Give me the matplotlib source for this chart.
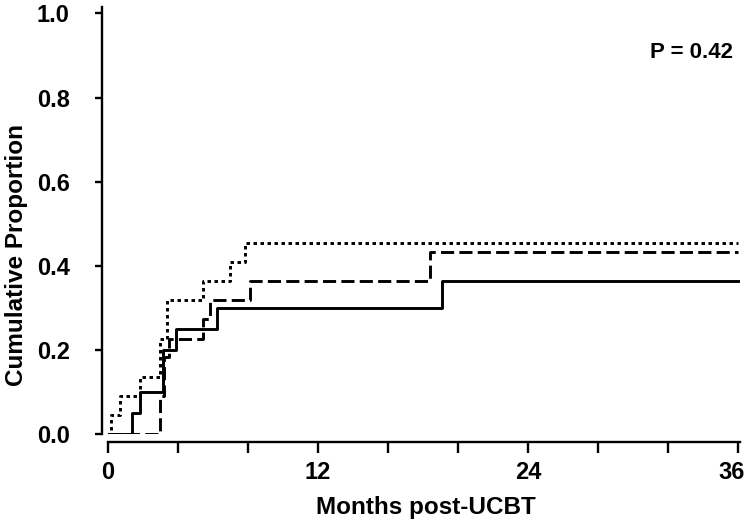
import matplotlib
matplotlib.use('Agg')
import matplotlib.pyplot as plt
import matplotlib.transforms as mtransforms

plt.rcParams.update({
    'font.family': ['Liberation Sans', 'DejaVu Sans'],
    'font.weight': 'bold',
})

# step times (months) and cumulative proportions for the three groups
solid_t = [0, 1.35, 1.83, 3.15, 3.9, 6.2, 19.1, 36]
solid_p = [0, 0.05, 0.10, 0.20, 0.25, 0.30, 0.364, 0.364]

dashed_t = [0, 2.97, 3.2, 3.5, 5.4, 5.8, 8.1, 18.4, 36]
dashed_p = [0, 0.091, 0.182, 0.227, 0.273, 0.318, 0.364, 0.432, 0.432]

dotted_t = [0, 0.17, 0.68, 1.83, 2.97, 3.35, 5.4, 6.96, 7.8, 36]
dotted_p = [0, 0.045, 0.091, 0.136, 0.227, 0.318, 0.364, 0.409, 0.455, 0.455]

x_ticks = [0, 4, 8, 12, 16, 20, 24, 28, 32, 36]
x_labels = ['0', '', '', '12', '', '', '24', '', '', '36']
y_ticks = [0.0, 0.2, 0.4, 0.6, 0.8, 1.0]
p_text = 'P = 0.42'

fig = plt.figure(figsize=(7.5, 5.24), dpi=100)
ax = fig.add_axes([0.144, 0.1718, 0.8427, 0.8155])

ax.step(solid_t, solid_p, where='post', color='black', lw=2.1)
ax.step(dashed_t, dashed_p, where='post', color='black', lw=2.1,
        dashes=(4.5, 1.8), dash_capstyle='butt')
ax.step(dotted_t, dotted_p, where='post', color='black', lw=2.1,
        dashes=(1.2, 1.2), dash_capstyle='butt')

ax.set_xlim(0, 36.1)
ax.set_ylim(0, 1.016)
ax.set_xticks(x_ticks)
ax.set_xticklabels(x_labels)
ax.set_yticks(y_ticks)
ax.set_yticklabels([f'{v:.1f}' for v in y_ticks])

for s in ['top', 'right']:
    ax.spines[s].set_visible(False)
ax.spines['bottom'].set_position(('outward', 5.5))
ax.spines['left'].set_position(('outward', 4.5))
for s in ['bottom', 'left']:
    ax.spines[s].set_linewidth(1.7)
ax.tick_params(axis='both', direction='out', width=1.7, labelsize=17)
ax.tick_params(axis='y', length=5, pad=18)
ax.tick_params(axis='x', length=8, pad=6)

# keep the last x label inside the figure, as in the original
last = ax.get_xticklabels()[-1]
last.set_transform(last.get_transform() +
                   mtransforms.ScaledTranslation(-7 / 100, 0, fig.dpi_scale_trans))

ax.set_xlabel('Months post-UCBT', fontsize=17.5, fontweight='bold')
ax.set_ylabel('Cumulative Proportion', fontsize=17.5, fontweight='bold')
ax.xaxis.set_label_coords(0.503, -0.146)
ax.yaxis.set_label_coords(-0.127, 0.42)

ax.text(35.7, 0.907, p_text, ha='right', va='center', fontsize=16,
        fontweight='bold')

fig.savefig('out.png', dpi=100)
